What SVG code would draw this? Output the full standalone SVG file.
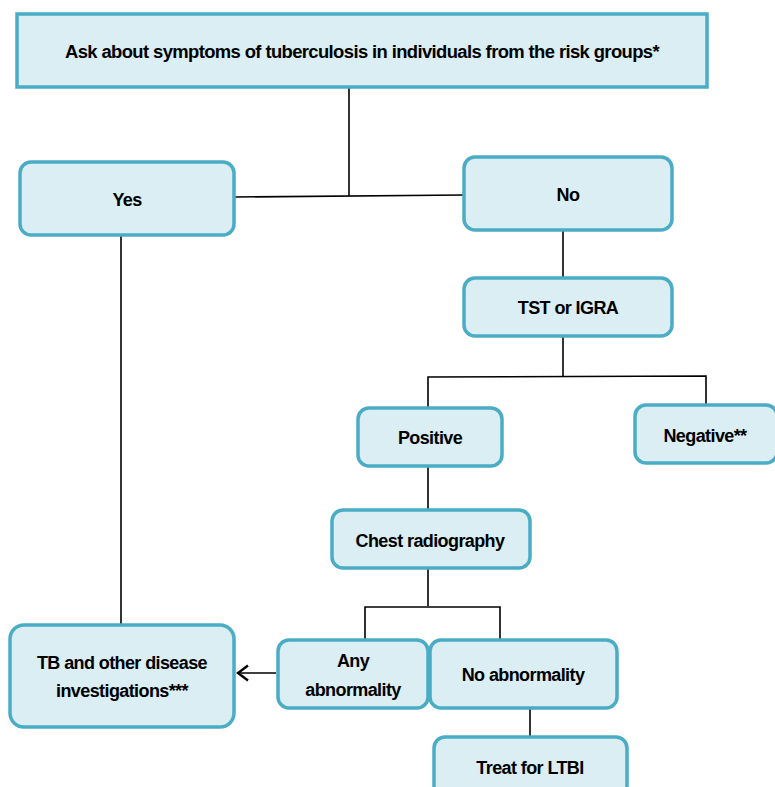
<svg xmlns="http://www.w3.org/2000/svg" width="775" height="787" viewBox="0 0 775 787">
<defs>
<style>
.box{fill:#DAEEF3;stroke:#4BACC6;stroke-width:3.5}
.t{font-family:"Liberation Sans",Arial,sans-serif;font-weight:bold;font-size:18px;fill:#000;text-anchor:middle;dominant-baseline:central;letter-spacing:-0.6px}
.c{fill:none;stroke:#000;stroke-width:1.6}
</style>
<marker id="arr" viewBox="0 0 14 18" refX="12" refY="9" markerWidth="14" markerHeight="18" markerUnits="userSpaceOnUse" orient="auto">
<path d="M2,1.5 L12,9 L2,16.5" fill="none" stroke="#000" stroke-width="2.4"/>
</marker>
</defs>
<rect width="775" height="787" fill="#fff"/>
<g id="connectors">
<path class="c" d="M349,87 V196"/>
<path class="c" d="M234,197 L464,195"/>
<path class="c" d="M121,235 V626"/>
<path class="c" d="M563,230 V279"/>
<path class="c" d="M563,336 V376"/>
<path class="c" d="M428,408 V377 L706,376 V404"/>
<path class="c" d="M428,466 V510"/>
<path class="c" d="M428,568 V606"/>
<path class="c" d="M365,640 V607 H500 V640"/>
<path class="c" d="M276,673 H238" stroke-width="2.4" marker-end="url(#arr)"/>
<path class="c" d="M530,708 V737"/>
</g>
<g id="n1"><rect class="box" x="17" y="14" width="690" height="73"/><text class="t" x="362" y="52" textLength="594" lengthAdjust="spacingAndGlyphs">Ask about symptoms of tuberculosis in individuals from the risk groups*</text></g>
<g id="n2"><rect class="box" x="20" y="162" width="214" height="73" rx="11"/><text class="t" x="127" y="200">Yes</text></g>
<g id="n3"><rect class="box" x="464" y="157" width="208" height="73" rx="11"/><text class="t" x="568" y="195">No</text></g>
<g id="n4"><rect class="box" x="464" y="278" width="208" height="58" rx="11"/><text class="t" x="568" y="308">TST or IGRA</text></g>
<g id="n5"><rect class="box" x="358" y="408" width="144" height="58" rx="11"/><text class="t" x="430" y="438">Positive</text></g>
<g id="n6"><rect class="box" x="635" y="405" width="142" height="58" rx="11"/><text class="t" x="705" y="436">Negative**</text></g>
<g id="n7"><rect class="box" x="332" y="510" width="198" height="58" rx="11"/><text class="t" x="430" y="541">Chest radiography</text></g>
<g id="n8"><rect class="box" x="278" y="640" width="150" height="68" rx="11"/><text class="t" x="353" y="661">Any</text><text class="t" x="353" y="690">abnormality</text></g>
<g id="n9"><rect class="box" x="430" y="640" width="187" height="68" rx="11"/><text class="t" x="523" y="675">No abnormality</text></g>
<g id="n10"><rect class="box" x="10" y="625" width="224" height="102" rx="14"/><text class="t" x="122" y="663">TB and other disease</text><text class="t" x="122" y="691">investigations***</text></g>
<g id="n11"><rect class="box" x="434" y="737" width="193" height="60" rx="11"/><text class="t" x="530" y="768">Treat for LTBI</text></g>
</svg>
